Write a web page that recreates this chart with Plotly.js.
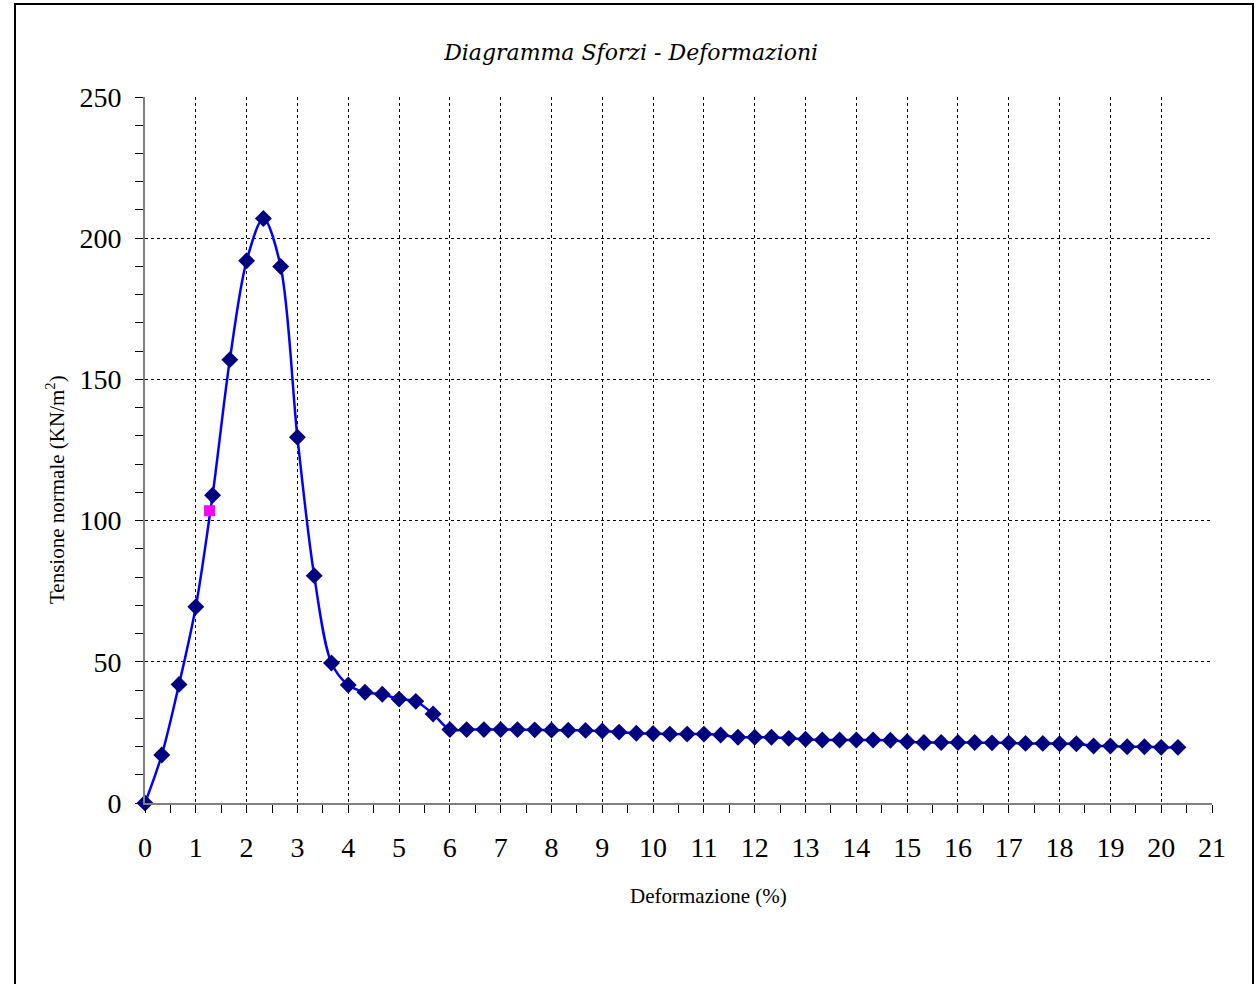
<!DOCTYPE html>
<html>
<head>
<meta charset="utf-8">
<script src="https://cdn.plot.ly/plotly-3.0.1.min.js"></script>
<style>html,body{margin:0;padding:0;background:#fff;}#chart{width:1256px;height:984px;}</style>
</head>
<body>
<div id="chart"></div>
<script>
// Deformazione (%) values
var deformazione = [
  0, 0.33, 0.67, 1.00, 1.33, 1.67, 2.00, 2.33, 2.67, 3.00,
  3.33, 3.67, 4.00, 4.33, 4.67, 5.00, 5.33, 5.67, 6.00, 6.33,
  6.67, 7.00, 7.33, 7.67, 8.00, 8.33, 8.67, 9.00, 9.33, 9.67,
  10.00, 10.33, 10.67, 11.00, 11.33, 11.67, 12.00, 12.33, 12.67, 13.00,
  13.33, 13.67, 14.00, 14.33, 14.67, 15.00, 15.33, 15.67, 16.00, 16.33,
  16.67, 17.00, 17.33, 17.67, 18.00, 18.33, 18.67, 19.00, 19.33, 19.67,
  20.00, 20.33
];
// Tensione normale (KN/m2)
var tensione = [
  0, 17, 42, 69.5, 109, 157, 192, 207, 190, 129.5,
  80.5, 49.6, 41.8, 39.2, 38.5, 36.8, 36, 31.5, 26, 26,
  26, 26, 26, 25.9, 25.8, 25.8, 25.7, 25.5, 25.1, 24.7,
  24.6, 24.4, 24.4, 24.4, 24.1, 23.3, 23.3, 23.3, 22.9, 22.6,
  22.3, 22.3, 22.3, 22.3, 22.2, 21.7, 21.4, 21.4, 21.4, 21.4,
  21.3, 21.3, 21.1, 21.1, 21.0, 21.0, 20.2, 20.2, 19.9, 19.9,
  19.7, 19.7
];
// Highlighted point
var puntoX = [1.27];
var puntoY = [103.5];

var xTickVals = [0,1,2,3,4,5,6,7,8,9,10,11,12,13,14,15,16,17,18,19,20,21];
var yTickVals = [0,50,100,150,200,250];

var titoloGrafico = 'Diagramma Sforzi - Deformazioni';
var titoloX = 'Deformazione (%)';
var titoloY = 'Tensione normale (KN/m<sup>2</sup>)';

var serif = 'Liberation Serif, Times New Roman, serif';
var serifItalic = 'DejaVu Serif, Liberation Serif, serif';

var traces = [
  {
    x: deformazione, y: tensione, type: 'scatter', mode: 'lines+markers',
    line: {color: '#0000FF', width: 2.5, shape: 'spline', smoothing: 0.9},
    marker: {symbol: 'diamond', size: 13, color: '#000080', line: {width: 0}},
    cliponaxis: false,
    showlegend: false, hoverinfo: 'x+y'
  },
  {
    x: puntoX, y: puntoY, type: 'scatter', mode: 'markers',
    marker: {symbol: 'square', size: 11, color: '#FF00FF', line: {width: 0}},
    cliponaxis: false,
    showlegend: false
  }
];

var layout = {
  width: 1256, height: 984,
  paper_bgcolor: '#ffffff', plot_bgcolor: '#ffffff',
  margin: {l: 145, r: 44, t: 97, b: 181, pad: 0},
  font: {family: serif, color: '#000'},
  title: {
    text: titoloGrafico,
    font: {family: serifItalic, size: 22, color: '#000', style: 'italic'},
    xref: 'container', x: 0.5025, xanchor: 'center',
    yref: 'container', y: 1 - 52/984, yanchor: 'middle'
  },
  xaxis: {
    range: [0, 21], autorange: false,
    tickmode: 'array', tickvals: xTickVals,
    ticks: 'outside', ticklen: 8, tickwidth: 1, tickcolor: '#000',
    minor: {dtick: 0.5, ticks: 'outside', ticklen: 8, tickwidth: 1, tickcolor: '#000', showgrid: false},
    showgrid: true, gridcolor: '#000', griddash: 'dot', gridwidth: 1,
    zeroline: false,
    showline: true, linecolor: '#808080', linewidth: 2,
    tickfont: {family: serif, size: 28, color: '#000'},
    ticklabelstandoff: 10
  },
  yaxis: {
    range: [0, 250], autorange: false,
    tickmode: 'array', tickvals: yTickVals,
    ticks: 'outside', ticklen: 8, tickwidth: 1, tickcolor: '#000',
    minor: {dtick: 10, ticks: 'outside', ticklen: 8, tickwidth: 1, tickcolor: '#000', showgrid: false},
    showgrid: true, gridcolor: '#000', griddash: 'dot', gridwidth: 1,
    zeroline: false,
    showline: true, linecolor: '#808080', linewidth: 2,
    tickfont: {family: serif, size: 28, color: '#000'},
    ticklabelstandoff: 8
  },
  annotations: [
    {text: titoloX, xref: 'paper', yref: 'paper',
     x: (708 - 145) / 1067, y: (803 - 896) / 706, xanchor: 'center', yanchor: 'middle',
     showarrow: false, font: {family: serif, size: 21, color: '#000'}},
    {text: titoloY, xref: 'paper', yref: 'paper', textangle: -90,
     x: (55 - 145) / 1067, y: (803 - 490) / 706, xanchor: 'center', yanchor: 'middle',
     showarrow: false, font: {family: serif, size: 21, color: '#000'}}
  ],
  shapes: [
    {type: 'rect', xref: 'paper', yref: 'paper',
     x0: (15 - 145) / 1067, x1: (1253 - 145) / 1067,
     y0: (803 - 995) / 706, y1: (803 - 4) / 706,
     line: {color: '#000', width: 2}, fillcolor: 'rgba(0,0,0,0)', layer: 'below'}
  ]
};

Plotly.newPlot('chart', traces, layout, {displayModeBar: false, staticPlot: true});
</script>
</body>
</html>
